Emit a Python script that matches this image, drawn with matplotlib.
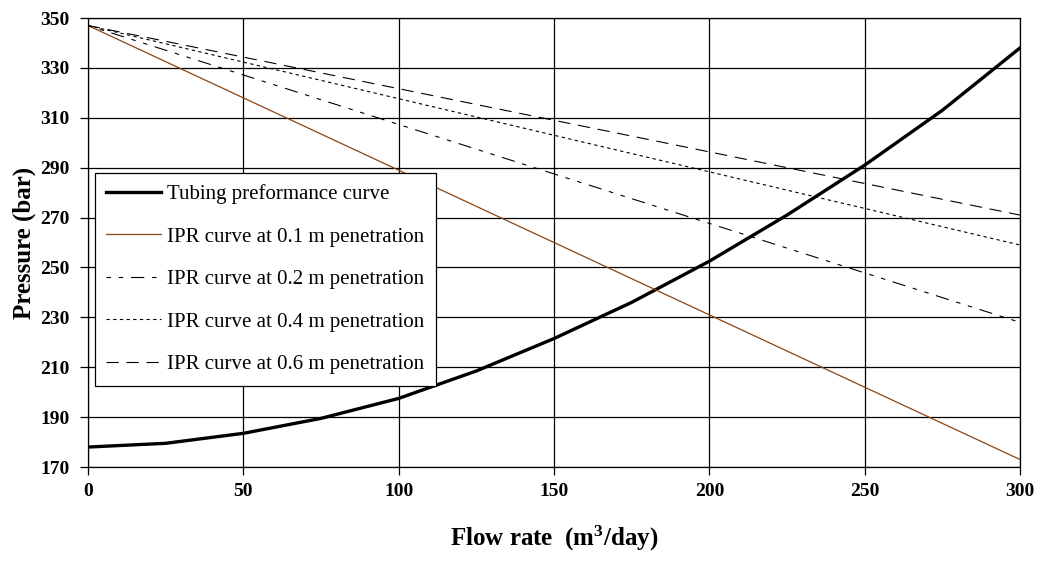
# tubing performance vs IPR curves

import numpy as np
import matplotlib.pyplot as plt

plt.rcParams['font.family'] = ['Liberation Serif', 'DejaVu Serif']
plt.rcParams['mathtext.fontset'] = 'custom'
plt.rcParams['mathtext.rm'] = 'Liberation Serif'
plt.rcParams['mathtext.bf'] = 'Liberation Serif:bold'

# tubing performance curve
q_tpc = [0, 25, 50, 75, 100, 125, 150, 175, 200, 225, 250, 275, 300]
p_tpc = [178, 179.5, 183.5, 189.5, 197.5, 208.5, 221.5, 236, 252.5, 271, 291, 313, 338]

# IPR curves (straight lines)
q_ipr = [0, 300]
p_ipr_01 = [347, 173]
p_ipr_02 = [347, 228]
p_ipr_04 = [347, 259]
p_ipr_06 = [347, 271]

fig = plt.figure(figsize=(10.39, 5.63), dpi=100)
ax = fig.add_axes([0.0847, 0.1705, 0.897, 0.7975])

ax.plot(q_tpc, p_tpc, color='black', lw=2.4, label='Tubing preformance curve')
ax.plot(q_ipr, p_ipr_01, color='#8B4513', lw=0.9, label='IPR curve at 0.1 m penetration')
ax.plot(q_ipr, p_ipr_02, color='black', lw=0.8, dashes=(4, 7, 4, 7, 12, 7),
        label='IPR curve at 0.2 m penetration')
ax.plot(q_ipr, p_ipr_04, color='black', lw=0.8, dashes=(3, 3),
        label='IPR curve at 0.4 m penetration')
ax.plot(q_ipr, p_ipr_06, color='black', lw=0.8, dashes=(11, 7),
        label='IPR curve at 0.6 m penetration')

ax.set_xlim(0, 300)
ax.set_ylim(170, 350)
ax.set_xticks(np.arange(0, 301, 50))
ax.set_yticks(np.arange(170, 351, 20))
ax.grid(True, color='black', lw=0.9)
ax.set_axisbelow(True)
for s in ax.spines.values():
    s.set_linewidth(0.9)
ax.tick_params(direction='out', length=5.5, width=0.9, labelsize=14, pad=8)
for lab in ax.get_xticklabels() + ax.get_yticklabels():
    lab.set_fontweight('bold')
ax.tick_params(axis='x', pad=6)

ax.set_xlabel(r'Flow rate  (m$\mathbf{^3}$/day)', fontsize=18, fontweight='bold', labelpad=17)
ax.set_ylabel('Pressure (bar)', fontsize=18, fontweight='bold', labelpad=3)

leg = ax.legend(loc='upper left', bbox_to_anchor=(0.0075, 0.655), fontsize=15,
                frameon=True, fancybox=False, edgecolor='black', framealpha=1,
                handlelength=2.6, labelspacing=1.1, borderpad=0.55, handletextpad=0.3,
                borderaxespad=0)
leg.get_frame().set_linewidth(0.9)

plt.savefig('out.png', dpi=100)
